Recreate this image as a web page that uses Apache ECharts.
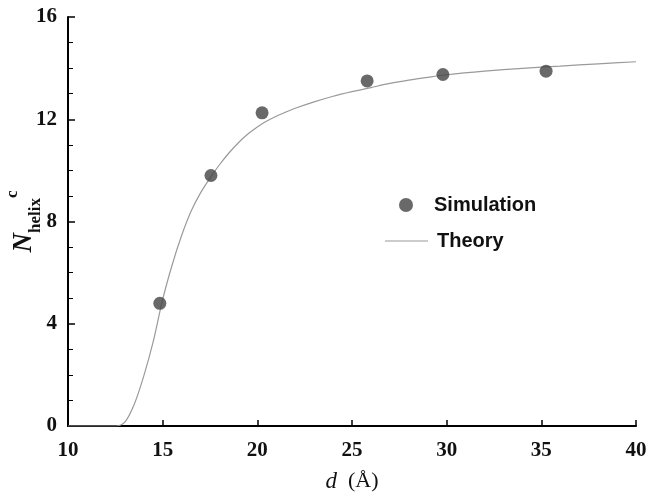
<!DOCTYPE html>
<html>
<head>
<meta charset="utf-8">
<script src="https://cdn.jsdelivr.net/npm/echarts@6/dist/echarts.min.js"></script>
<style>
  html, body { margin: 0; padding: 0; background: #fff; }
  #chart { width: 651px; height: 497px; }
</style>
</head>
<body>
<div id="chart"></div>
<script>
// simulation points (d in Å, N_helix^c)
var simD = [14.85, 17.55, 20.25, 25.8, 29.8, 35.25];
var simN = [4.8, 9.8, 12.25, 13.5, 13.75, 13.88];

// theory curve
var theoryD = [10, 12.5, 13.0, 13.5, 14.0, 14.5, 15.0, 15.5, 16.0, 16.5, 17.0, 17.5, 18.0, 18.5,
  19.0, 19.5, 20.0, 20.5, 21.0, 21.5, 22.0, 23, 24, 25, 26, 27, 28, 29, 30, 32, 34, 36, 38, 40];
var theoryN = [0, 0, 0.15, 0.85, 1.95, 3.3, 4.95, 6.3, 7.45, 8.4, 9.12, 9.7, 10.22, 10.68,
  11.08, 11.42, 11.7, 11.93, 12.12, 12.28, 12.43, 12.68, 12.9, 13.08, 13.24, 13.4, 13.53, 13.64, 13.74, 13.88, 13.99, 14.08, 14.17, 14.25];

var xTicks = [10, 15, 20, 25, 30, 35, 40];
var yTicks = [0, 4, 8, 12, 16];

var simData = simD.map(function (d, i) { return [d, simN[i]]; });
var theoryData = theoryD.map(function (d, i) { return [d, theoryN[i]]; });

var myChart = echarts.init(document.getElementById("chart"));
var tickFont = { fontFamily: "Liberation Serif", fontWeight: "bold", fontSize: 21, color: "#111" };

var option = {
  animation: false,
  grid: { left: 68, right: 15, top: 17, bottom: 71, outerBoundsMode: "none", containLabel: false },
  legend: [
    {
      data: ["Simulation"],
      orient: "vertical",
      left: 394, top: 190,
      itemWidth: 14, itemHeight: 14,
      textStyle: { fontFamily: "Liberation Sans", fontWeight: "bold", fontSize: 20, color: "#111", padding: [0, 0, 0, 16] }
    },
    {
      data: [{ name: "Theory", icon: "rect" }],
      orient: "vertical",
      left: 380, top: 226,
      itemWidth: 43, itemHeight: 1.2,
      textStyle: { fontFamily: "Liberation Sans", fontWeight: "bold", fontSize: 20, color: "#111", padding: [0, 0, 0, 4] }
    }
  ],
  xAxis: {
    type: "value",
    min: xTicks[0], max: xTicks[xTicks.length - 1], interval: 5,
    name: "{i|d}{r|  (Å)}",
    nameLocation: "middle",
    nameGap: 44,
    nameMoveOverlap: false,
    nameTextStyle: {
      rich: {
        i: { fontFamily: "Liberation Serif", fontStyle: "italic", fontSize: 23, color: "#111" },
        r: { fontFamily: "Liberation Serif", fontSize: 22, color: "#111" }
      }
    },
    axisLine: { lineStyle: { color: "#000", width: 2 } },
    axisTick: { inside: true, length: 6, lineStyle: { color: "#000", width: 1.5 } },
    axisLabel: Object.assign({ margin: 14 }, tickFont),
    splitLine: { show: false }
  },
  yAxis: {
    type: "value",
    min: yTicks[0], max: yTicks[yTicks.length - 1], interval: 4,
    name: "{n|N}{s|helix}{c|c}",
    nameLocation: "middle",
    nameRotate: 90,
    nameGap: 24,
    nameMoveOverlap: false,
    nameTextStyle: {
      rich: {
        n: { fontFamily: "Liberation Serif", fontStyle: "italic", fontWeight: "bold", fontSize: 27, color: "#111", lineHeight: 40, verticalAlign: "middle" },
        s: { fontFamily: "Liberation Serif", fontWeight: "bold", fontSize: 17, color: "#111", lineHeight: 14, verticalAlign: "bottom" },
        c: { fontFamily: "Liberation Serif", fontWeight: "bold", fontSize: 17, color: "#111", lineHeight: 14, verticalAlign: "top" }
      }
    },
    axisLine: { show: true, lineStyle: { color: "#000", width: 2 } },
    axisTick: { inside: true, length: 7, lineStyle: { color: "#000", width: 1.5 } },
    minorTick: { show: true, splitNumber: 4, length: 5, lineStyle: { color: "#000", width: 1 } },
    axisLabel: Object.assign({ margin: 11 }, tickFont),
    splitLine: { show: false }
  },
  series: [
    {
      name: "Theory",
      type: "line",
      data: theoryData,
      symbol: "none",
      smooth: 0.3,
      lineStyle: { color: "#9a9a9a", width: 1.2 },
      itemStyle: { color: "#9a9a9a" },
      z: 2
    },
    {
      name: "Simulation",
      type: "scatter",
      data: simData,
      symbol: "circle",
      symbolSize: 13,
      itemStyle: { color: "#444" },
      z: 3
    }
  ]
};
myChart.setOption(option);
</script>
</body>
</html>
